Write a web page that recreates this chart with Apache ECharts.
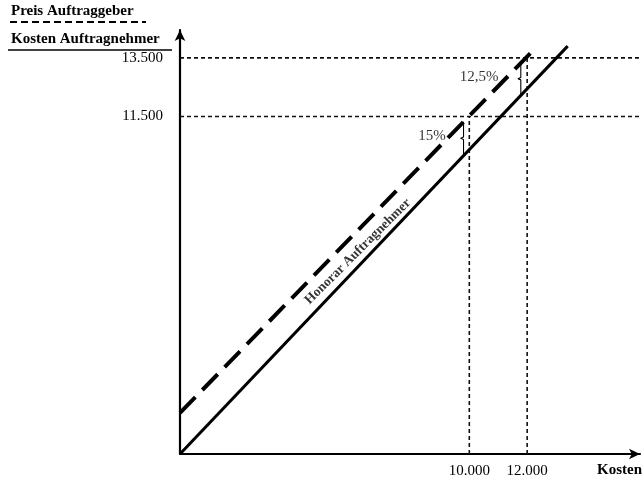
<!DOCTYPE html>
<html>
<head>
<meta charset="utf-8">
<script src="https://cdn.jsdelivr.net/npm/echarts@6/dist/echarts.min.js"></script>
<style>
html,body{margin:0;padding:0;background:#fff;}
#c{width:643px;height:487px;}
</style>
</head>
<body>
<div id="c"></div>
<script>
// ---- data ----
const xTickValues = [10000, 12000];
const xTickLabels = ['10.000', '12.000'];
const yTickValues = [11500, 13500];
const yTickLabels = ['11.500', '13.500'];
const xMax = 15900;
const yMax = 14450;
const costLine = [[0, 0], [13400, 13900]];          // Honorar Auftragnehmer (solid)
const priceLine = [[0, 1400], [12300, 13850]];      // Preis Auftraggeber (dashed)
const brace15 = [[9800, 11320], [9800, 10800], [9700, 10760], [9800, 10720], [9800, 10200]];
const brace125 = [[11780, 13330], [11780, 12830], [11680, 12790], [11780, 12750], [11780, 12250]];
const percentLabels = [
  { name: '15%', value: [8710, 10850] },
  { name: '12,5%', value: [10335, 12860] }
];
const lineLabel = { name: 'Honorar Auftragnehmer', value: [6150, 6900] };
const legendTop = 'Preis Auftraggeber';
const legendBottom = 'Kosten Auftragnehmer';
const xAxisName = 'Kosten';

const FONT = "'Liberation Serif', 'Times New Roman', serif";
const INK = '#000';

function tickFmt(values, labels) {
  return function (v) {
    const i = values.indexOf(v);
    return i >= 0 ? labels[i] : '';
  };
}

const guideSeries = [];
yTickValues.forEach(function (yv) {
  guideSeries.push({
    type: 'line', data: [[0, yv], [xMax, yv]], symbol: 'none', silent: true,
    lineStyle: { color: '#111', width: 1.6, type: [4, 3] }, z: 1
  });
});
xTickValues.forEach(function (xv, i) {
  guideSeries.push({
    type: 'line', data: [[xv, 0], [xv, yTickValues[i]]], symbol: 'none', silent: true,
    lineStyle: { color: '#111', width: 1.6, type: [4, 3] }, z: 1
  });
});

const chart = echarts.init(document.getElementById('c'));
chart.setOption({
  animation: false,
  backgroundColor: '#fff',
  grid: { left: 180, right: 3, top: 30, bottom: 33, containLabel: false },
  xAxis: {
    type: 'value', min: 0, max: xMax,
    axisLine: { show: true, symbol: ['none', 'arrow'], symbolSize: [8, 11],
      lineStyle: { color: INK, width: 2.2 } },
    axisTick: { show: false },
    splitLine: { show: false },
    axisLabel: { show: true, customValues: xTickValues, formatter: tickFmt(xTickValues, xTickLabels),
      fontFamily: FONT, fontSize: 15, color: INK, margin: 10 }
  },
  yAxis: {
    type: 'value', min: 0, max: yMax,
    axisLine: { show: true, symbol: ['none', 'arrow'], symbolSize: [8, 11],
      lineStyle: { color: INK, width: 2.2 } },
    axisTick: { show: false },
    splitLine: { show: false },
    axisLabel: { show: true, customValues: yTickValues, formatter: tickFmt(yTickValues, yTickLabels),
      fontFamily: FONT, fontSize: 15, color: INK, margin: 17 }
  },
  series: guideSeries.concat([
    {
      type: 'line', data: costLine, symbol: 'none', silent: true,
      lineStyle: { color: INK, width: 3, type: 'solid' }, z: 3
    },
    {
      type: 'line', data: priceLine, symbol: 'none', silent: true,
      lineStyle: { color: INK, width: 4, type: [22, 10], cap: 'butt' }, z: 3
    },
    {
      type: 'line', data: brace15, symbol: 'none', silent: true,
      lineStyle: { color: INK, width: 1.1 }, z: 2
    },
    {
      type: 'line', data: brace125, symbol: 'none', silent: true,
      lineStyle: { color: INK, width: 1.1 }, z: 2
    },
    {
      type: 'scatter', data: percentLabels, symbolSize: 0, silent: true,
      label: { show: true, position: 'inside', formatter: '{b}', fontFamily: FONT, fontSize: 15, color: INK }
    },
    {
      type: 'scatter', data: [lineLabel], symbolSize: 0, silent: true,
      label: { show: true, position: 'inside', formatter: '{b}', rotate: 45, fontFamily: FONT,
        fontSize: 13.5, fontWeight: 'bold', color: INK }
    }
  ]),
  graphic: [
    { type: 'text', left: 11, top: 4, style: { text: legendTop, font: 'bold 15px ' + FONT, fill: INK } },
    { type: 'line', shape: { x1: 10, y1: 22, x2: 146, y2: 22 }, style: { stroke: INK, lineWidth: 2, lineDash: [7, 4] } },
    { type: 'text', left: 11, top: 32, style: { text: legendBottom, font: 'bold 15px ' + FONT, fill: INK } },
    { type: 'line', shape: { x1: 8, y1: 50, x2: 172, y2: 50 }, style: { stroke: INK, lineWidth: 1.5 } },
    { type: 'text', right: 1, top: 463, style: { text: xAxisName, font: 'bold 15px ' + FONT, fill: INK } }
  ]
});
</script>
</body>
</html>
